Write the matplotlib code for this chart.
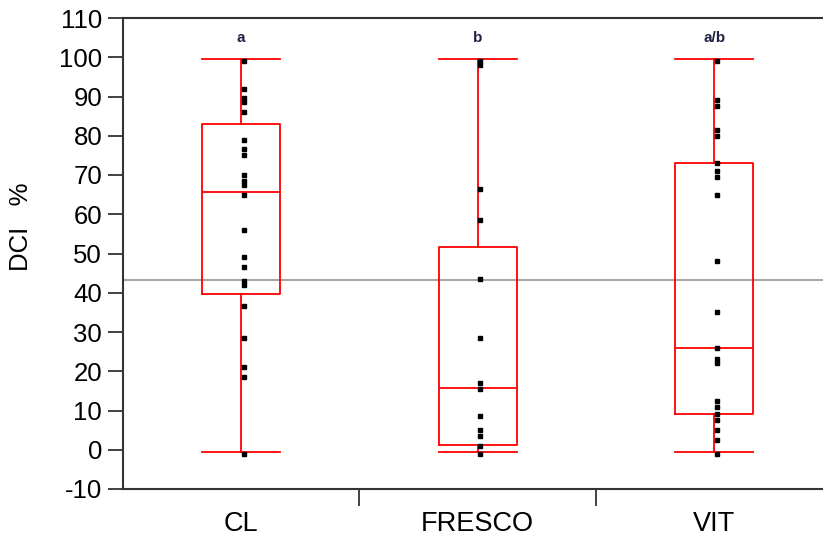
import matplotlib
matplotlib.use("Agg")
import matplotlib.pyplot as plt

plt.rcParams['font.family'] = ['Liberation Sans', 'DejaVu Sans']
plt.rcParams['axes.unicode_minus'] = False

# groups and letters
groups = ["CL", "FRESCO", "VIT"]
letters = ["a", "b", "a/b"]

# box statistics
q1 = [39.6, 1.1, 9.1]
med = [65.6, 15.7, 26.0]
q3 = [83.0, 51.7, 73.1]
whis_lo = [-0.5, -0.5, -0.5]
whis_hi = [99.5, 99.5, 99.5]

# individual points
cl_pts = [99, 92, 89.5, 88.5, 86, 79, 76.5, 75, 70, 68.5, 67.5, 65, 56, 49,
          46.5, 43, 42, 36.5, 28.5, 21, 18.5, -1]
fresco_pts = [99, 98, 66.5, 58.5, 43.5, 28.5, 17, 15.5, 8.5, 5, 3.5, 1, -1]
vit_pts = [99, 89, 87.5, 81.5, 80, 73, 71, 69.5, 65, 48, 35, 26, 23, 22,
           12.5, 11, 9, 7.5, 5, 2.5, -1]
points = [cl_pts, fresco_pts, vit_pts]

grand_mean = 43.2

fig = plt.figure(figsize=(8.23, 5.43), dpi=100)
ax = fig.add_axes([123 / 823, 1 - 489 / 543, 1 - 123 / 823, (489 - 18) / 543])

stats = []
for i in range(len(groups)):
    stats.append({"q1": q1[i], "med": med[i], "q3": q3[i],
                  "whislo": whis_lo[i], "whishi": whis_hi[i],
                  "fliers": [], "label": groups[i]})

red = dict(color="#ff0000", linewidth=1.3)
ax.bxp(stats, positions=range(len(groups)), widths=0.33, showfliers=False,
       boxprops=red, medianprops=red, whiskerprops=red,
       capprops=red, capwidths=0.33, manage_ticks=False, zorder=2)

ax.axhline(grand_mean, color="#a8a8a8", linewidth=1.5, zorder=1)

for i, pts in enumerate(points):
    ax.plot([i + 0.01] * len(pts), pts, linestyle="none", marker="s",
            markersize=3.4, color="black", zorder=3)
    ax.text(i, 105, letters[i], ha="center", va="center", fontsize=11,
            color="#222244", fontweight="bold")

ax.set_xlim(-0.5, 2.46)
ax.set_ylim(-10, 110)
ax.set_yticks(range(-10, 111, 10))
ax.set_xticks([0.5, 1.5])
ax.set_xticklabels([])
ax.tick_params(axis="x", direction="out", length=12, width=1.3, color="#333333")
ax.tick_params(axis="y", direction="out", length=11, width=1.3,
               color="#333333", labelsize=18.5, pad=4)
for i, g in enumerate(groups):
    ax.text(i, -19, g, ha="center", va="center", fontsize=19.5,
            clip_on=False)

ax.spines["right"].set_visible(False)
for s in ["left", "top", "bottom"]:
    ax.spines[s].set_color("#333333")
    ax.spines[s].set_linewidth(1.5)

ax.set_ylabel("DCI   %", fontsize=18.5)
ax.yaxis.set_label_coords(-0.128, 0.556)

fig.savefig("out.png", dpi=100)
